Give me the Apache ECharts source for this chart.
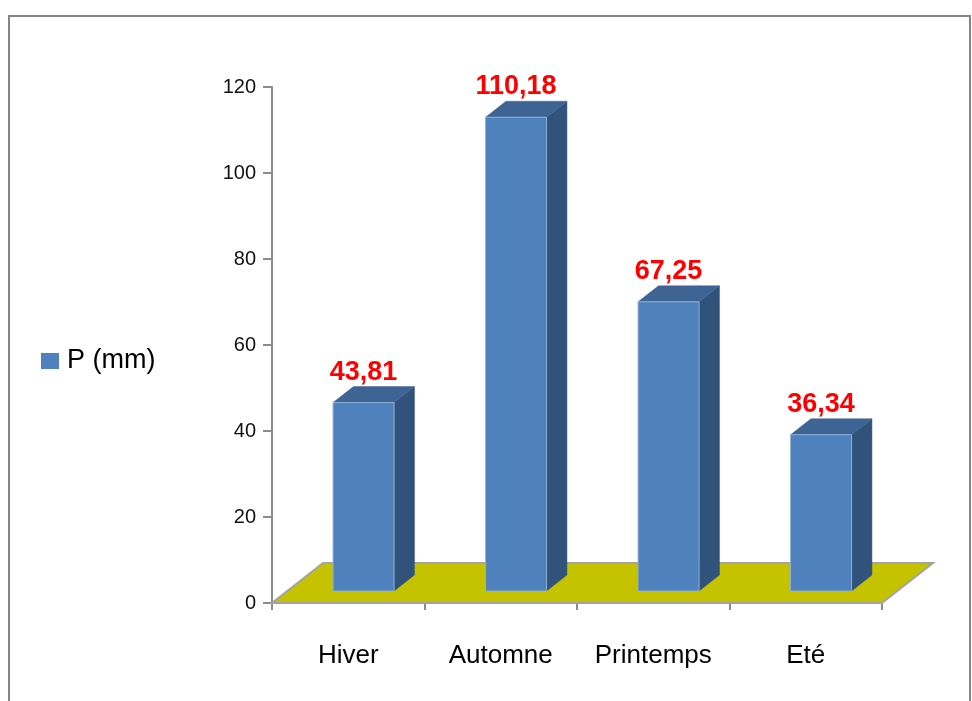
<!DOCTYPE html>
<html>
<head>
<meta charset="utf-8">
<title>P (mm) par saison</title>
<script src="https://cdn.jsdelivr.net/npm/echarts@6/dist/echarts.min.js"></script>
<style>
  html, body { margin: 0; padding: 0; background: #fff; }
  #chart { width: 972px; height: 701px; }
</style>
</head>
<body>
<div id="chart"></div>
<script>
// Data
const seasons = ['Hiver', 'Automne', 'Printemps', 'Eté'];
const precip = [43.81, 110.18, 67.25, 36.34];
const seriesName = 'P (mm)';

// 3D look: floor depth vector in px, bar placed part-way into that depth
const FLOOR_DX = 51, FLOOR_DY = -40;
const BAR_FRONT = 0.3;   // fraction of floor depth where bar front sits
const BAR_DEPTH = 0.4;   // fraction of floor depth the bar occupies
const BAR_RATIO = 0.4;   // front-face width / category width

const FONT = '"Liberation Sans", Arial, sans-serif';

function renderFloor(params, api) {
  const cs = params.coordSys;
  const xl = cs.x, xr = cs.x + cs.width, yb = cs.y + cs.height;
  return {
    type: 'polygon',
    silent: true,
    shape: { points: [[xl, yb], [xr, yb], [xr + FLOOR_DX, yb + FLOOR_DY], [xl + FLOOR_DX, yb + FLOOR_DY]] },
    style: { fill: '#c5c300', stroke: '#a3a3a3', lineWidth: 2 }
  };
}

function renderBar(params, api) {
  const idx = api.value(0), val = api.value(1);
  const base = api.coord([idx, 0]);
  const top = api.coord([idx, val]);
  const cw = api.size([1, 0])[0];
  const w = cw * BAR_RATIO;
  const ox = FLOOR_DX * BAR_FRONT, oy = FLOOR_DY * BAR_FRONT;
  const dx = FLOOR_DX * BAR_DEPTH, dy = FLOOR_DY * BAR_DEPTH;
  const x0 = base[0] - w / 2 + ox, x1 = x0 + w;
  const yb = base[1] + oy, yt = top[1] + oy;
  return {
    type: 'group',
    children: [
      { // side
        type: 'polygon',
        shape: { points: [[x1, yb], [x1 + dx, yb + dy], [x1 + dx, yt + dy], [x1, yt]] },
        style: { fill: '#30527b', stroke: '#30527b', lineWidth: 0.5 }
      },
      { // top
        type: 'polygon',
        shape: { points: [[x0, yt], [x1, yt], [x1 + dx, yt + dy], [x0 + dx, yt + dy]] },
        style: { fill: '#3d6493', stroke: '#3d6493', lineWidth: 0.5 }
      },
      { // front
        type: 'rect',
        shape: { x: x0, y: yt, width: w, height: yb - yt },
        style: { fill: '#4f81bd', stroke: '#8fb0d9', lineWidth: 1 }
      },
      { // value label
        type: 'text',
        style: {
          x: base[0] + ox, y: yt + dy - 1,
          text: val.toFixed(2).replace('.', ','),
          fill: '#ff0000', font: 'bold 27px ' + FONT,
          align: 'center', verticalAlign: 'bottom'
        }
      }
    ]
  };
}

const chart = echarts.init(document.getElementById('chart'), null, { renderer: 'canvas' });
chart.setOption({
  animation: false,
  backgroundColor: '#ffffff',
  color: ['#4f81bd'],
  graphic: [{
    type: 'rect', silent: true, z: 100,
    shape: { x: 9, y: 16, width: 961, height: 720 },
    style: { fill: 'none', stroke: '#868686', lineWidth: 2 }
  }],
  legend: {
    data: [seriesName],
    left: 41, top: 346, padding: 0,
    icon: 'rect', itemWidth: 18, itemHeight: 16, itemGap: 10,
    textStyle: { fontFamily: FONT, fontSize: 27, color: '#000', lineHeight: 30, padding: [0, 0, 0, 3] }
  },
  grid: { left: 272, right: 90, top: 87, bottom: 98 },
  xAxis: {
    type: 'category',
    data: seasons,
    axisLine: { lineStyle: { color: '#8c8c8c', width: 2 } },
    axisTick: { show: true, interval: 0, length: 7, lineStyle: { color: '#8c8c8c', width: 2 } },
    axisLabel: { interval: 0, hideOverlap: false, fontFamily: FONT, fontSize: 26, color: '#000', margin: 40 },
    splitLine: { show: false }
  },
  yAxis: {
    type: 'value',
    min: 0, max: 120, interval: 20,
    axisLine: { show: true, lineStyle: { color: '#8c8c8c', width: 2 } },
    axisTick: { show: true, length: 9, lineStyle: { color: '#8c8c8c', width: 2 } },
    axisLabel: { fontFamily: FONT, fontSize: 20, color: '#111', margin: 16 },
    splitLine: { show: false }
  },
  series: [
    {
      name: 'floor',
      type: 'custom',
      silent: true,
      z: 1,
      renderItem: renderFloor,
      data: [[0, 0]]
    },
    {
      name: seriesName,
      type: 'custom',
      z: 3,
      itemStyle: { color: '#4f81bd' },
      renderItem: renderBar,
      encode: { x: 0, y: 1 },
      data: precip.map((v, i) => [i, v])
    }
  ]
});
</script>
</body>
</html>
